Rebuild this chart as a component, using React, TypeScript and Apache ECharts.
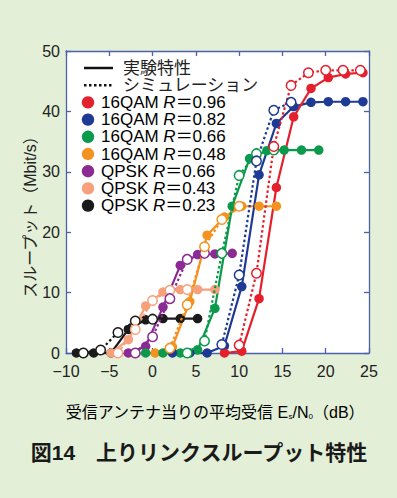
import React, { useEffect, useRef } from "react";
import * as echarts from "echarts";

// ---- data (x: dB, y: Mbit/s) ----
const xExpQ096 = [8.3, 10.3, 12.3, 14.3, 16.3, 18.3, 20.3, 22.3, 24.3];
const yExpQ096 = [0, 0.3, 9, 27.4, 39.1, 43.8, 45.6, 46.2, 46.4];
const xSimQ096 = [10, 12, 14, 16, 18, 20, 22, 24];
const ySimQ096 = [1.3, 13.2, 34.2, 44.3, 46.4, 46.8, 46.8, 46.8];

const xExpQ082 = [2.3, 4.3, 6.3, 8.3, 10.3, 12.3, 14.3, 16.3, 18.3, 20.3, 22.3, 24.3];
const yExpQ082 = [0, 0, 0, 1.2, 11, 29.5, 38, 40.8, 41.5, 41.6, 41.6, 41.6];
const xSimQ082 = [8, 10, 12, 14, 16];
const ySimQ082 = [1.4, 12.9, 31.8, 40.2, 41.5];

const xExpQ066 = [-0.8, 1.2, 3.2, 5.2, 7.2, 9.2, 11.2, 13.2, 15.2, 17.2, 19.2];
const yExpQ066 = [0, 0, 0, 0.5, 7.4, 24.3, 32.2, 33.5, 33.6, 33.6, 33.6];
const xSimQ066 = [4, 6, 8, 10, 12, 14];
const ySimQ066 = [0, 2, 16.5, 29.4, 33, 33.6];

const xExpQ048 = [0.3, 2.3, 4.3, 6.3, 8.3, 10.3, 12.3, 14.3];
const yExpQ048 = [0, 1, 8.5, 19.5, 22.5, 24.3, 24.3, 24.3];
const xSimQ048 = [2, 4, 6, 8, 10];
const ySimQ048 = [0.8, 8, 17.6, 22.1, 24.3];

const xExpP066 = [-2.8, -0.8, 1.2, 3.2, 5.2, 7.2, 9.2];
const yExpP066 = [0, 1.1, 7.6, 14.5, 16.3, 16.4, 16.5];
const xSimP066 = [-2, 0, 2, 4, 6];
const ySimP066 = [0, 2.7, 9, 15.5, 16.5];

const xExpP043 = [-4.8, -2.8, -0.8, 1.2, 3.2, 5.2, 7.2];
const yExpP043 = [0, 2.2, 7.8, 10.1, 10.5, 10.5, 10.5];
const xSimP043 = [-4, -2, 0, 2, 4];
const ySimP043 = [0, 3.9, 8.7, 10.4, 10.5];

const xExpP023 = [-8.8, -6.8, -4.8, -2.8, -0.8, 1.2, 3.2, 5.2];
const yExpP023 = [0, 0, 0, 3.9, 5.5, 5.7, 5.7, 5.7];
const xSimP023 = [-8, -6, -4, -2, 0];
const ySimP023 = [0, 0.5, 3.4, 5.3, 5.6];

const legendMods = ["16QAM ", "16QAM ", "16QAM ", "16QAM ", "QPSK ", "QPSK ", "QPSK "];
const legendRates = ["0.96", "0.82", "0.66", "0.48", "0.66", "0.43", "0.23"];
const colors = ["#e3202b", "#1e3a94", "#0b9a4c", "#f4921f", "#8b2a92", "#f7a07c", "#1a1a1a"];

const xTicks = { min: -10, max: 25, interval: 5 };
const yTicks = { min: 0, max: 50, interval: 10 };

const FONT = '"Liberation Sans", "Noto Sans CJK JP", sans-serif';
const AXIS = "#4b62ad";
const BG = "#e3efd7";

const zip = (xs: number[], ys: number[]) => xs.map((x, i) => [x, ys[i]]);

function mk(name: string, xs: number[], ys: number[], color: string, sim: boolean) {
  return {
    type: "line",
    name,
    data: zip(xs, ys),
    symbol: "circle",
    symbolSize: 9.5,
    lineStyle: { color, width: 2.2, type: sim ? [2.5, 2.5] : "solid" },
    itemStyle: {
      color: sim ? "#ffffff" : color,
      borderColor: color,
      borderWidth: sim ? 1.5 : 0,
    },
    z: sim ? 3 : 2,
  };
}

export default function App() {
  const ref = useRef<HTMLDivElement>(null);
  useEffect(() => {
    if (!ref.current) return;
    const chart = echarts.init(ref.current, undefined, { renderer: "svg" });

    const exps = [
      [xExpQ096, yExpQ096], [xExpQ082, yExpQ082], [xExpQ066, yExpQ066], [xExpQ048, yExpQ048],
      [xExpP066, yExpP066], [xExpP043, yExpP043], [xExpP023, yExpP023],
    ];
    const sims = [
      [xSimQ096, ySimQ096], [xSimQ082, ySimQ082], [xSimQ066, ySimQ066], [xSimQ048, ySimQ048],
      [xSimP066, ySimP066], [xSimP043, ySimP043], [xSimP023, ySimP023],
    ];
    const series: any[] = [];
    for (let i = 6; i >= 0; i--) {
      series.push(mk("exp" + i, exps[i][0], exps[i][1], colors[i], false));
      series.push(mk("sim" + i, sims[i][0], sims[i][1], colors[i], true));
    }

    const rowY0 = 68;
    const rowH = 17.2;
    const legendEls: any[] = [];
    legendEls.push({
      type: "line",
      shape: { x1: 84, y1: rowY0, x2: 113, y2: rowY0 },
      style: { stroke: "#111", lineWidth: 2.5 },
    });
    legendEls.push({
      type: "text", x: 123, y: rowY0,
      style: { text: "実験特性", font: `17px ${FONT}`, fill: "#222", verticalAlign: "middle" },
    });
    legendEls.push({
      type: "line",
      shape: { x1: 84, y1: rowY0 + rowH, x2: 113, y2: rowY0 + rowH },
      style: { stroke: "#111", lineWidth: 2.5, lineDash: [2.5, 2.5] },
    });
    legendEls.push({
      type: "text", x: 123, y: rowY0 + rowH,
      style: { text: "シミュレーション", font: `17px ${FONT}`, fill: "#222", verticalAlign: "middle" },
    });
    for (let i = 0; i < 7; i++) {
      const yy = rowY0 + rowH * (i + 2);
      legendEls.push({ type: "circle", shape: { cx: 88, cy: yy, r: 6.2 }, style: { fill: colors[i] } });
      legendEls.push({
        type: "text", x: 101, y: yy,
        style: {
          text: `{a|${legendMods[i]}}{i|R}{a|＝${legendRates[i]}}`,
          verticalAlign: "middle",
          rich: {
            a: { fontSize: 17, fontFamily: FONT, color: "#222" },
            i: { fontSize: 17, fontFamily: FONT, fontStyle: "italic", color: "#222" },
          },
        },
      });
    }

    chart.setOption({
      animation: false,
      backgroundColor: BG,
      grid: { left: 66, right: 28, top: 51, bottom: 145, show: true, backgroundColor: "#ffffff", borderWidth: 0 },
      xAxis: [
        {
          type: "value", ...xTicks, position: "bottom",
          axisLine: { show: true, lineStyle: { color: AXIS, width: 1.3 } },
          axisTick: { show: true, inside: true, length: 5, lineStyle: { color: AXIS, width: 1.3 } },
          axisLabel: {
            color: "#222", fontSize: 16, fontFamily: FONT, margin: 10,
            formatter: (v: number) => (v < 0 ? "\u2212" + Math.abs(v) : String(v)),
          },
          splitLine: { show: false },
        },
        {
          type: "value", ...xTicks, position: "top",
          axisLine: { show: true, onZero: false, lineStyle: { color: AXIS, width: 1.3 } },
          axisTick: { show: true, inside: true, length: 5, lineStyle: { color: AXIS, width: 1.3 } },
          axisLabel: { show: false },
          splitLine: { show: false },
        },
      ],
      yAxis: [
        {
          type: "value", ...yTicks, position: "left",
          axisLine: { show: true, onZero: false, lineStyle: { color: AXIS, width: 1.3 } },
          axisTick: { show: true, inside: true, length: 5, lineStyle: { color: AXIS, width: 1.3 } },
          axisLabel: { color: "#222", fontSize: 16, fontFamily: FONT, margin: 6 },
          splitLine: { show: false },
        },
        {
          type: "value", ...yTicks, position: "right",
          axisLine: { show: true, onZero: false, lineStyle: { color: AXIS, width: 1.3 } },
          axisTick: { show: true, inside: true, length: 5, lineStyle: { color: AXIS, width: 1.3 } },
          axisLabel: { show: false },
          splitLine: { show: false },
        },
      ],
      series,
      graphic: [
        ...legendEls,
        {
          type: "text", x: 30, y: 213, rotation: Math.PI / 2,
          style: {
            text: "スループット（Mbit/s）", font: `16px ${FONT}`, fill: "#222",
            align: "center", verticalAlign: "middle",
          },
        },
        {
          type: "text", x: 215, y: 412,
          style: {
            text: "{a|受信アンテナ当りの平均受信 E}{s|s}{a|/N}{s|0}{a|（dB）}",
            align: "center", verticalAlign: "middle",
            rich: {
              a: { fontSize: 16, fontFamily: FONT, color: "#222" },
              s: { fontSize: 8, fontFamily: FONT, color: "#222", verticalAlign: "bottom", padding: [7, 0, 0, 0] },
            },
          },
        },
        {
          type: "text", x: 199, y: 452,
          style: {
            text: "図14　上りリンクスループット特性", font: `bold 21px ${FONT}`, fill: "#1a1a1a",
            align: "center", verticalAlign: "middle",
          },
        },
      ],
    });
    return () => chart.dispose();
  }, []);
  return (
    <div
      ref={ref}
      style={{ position: "fixed", left: 0, top: 0, width: 397, height: 498, background: BG }}
    />
  );
}
